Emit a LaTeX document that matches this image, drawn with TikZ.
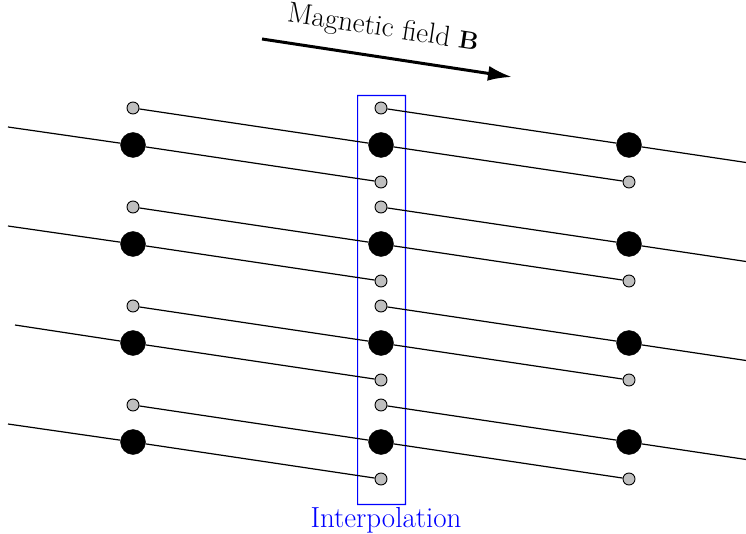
\documentclass[tikz,border=0pt]{standalone}
\usetikzlibrary{arrows.meta}
\definecolor{ibox}{RGB}{0,0,255}
\begin{document}
\begin{tikzpicture}[x=1pt,y=-1pt,
  bigdot/.style={circle,fill=black,draw=black,inner sep=0pt,minimum size=25pt},
  smalldot/.style={circle,fill=black!25,draw=black,line width=0.9pt,inner sep=0pt,minimum size=12pt},
  wire/.style={line width=1.2pt},
  txt/.style={font=\fontsize{29}{34}\selectfont}]
\useasboundingbox (0,0) rectangle (746,534);
\coordinate (boxA) at (357,95);
\coordinate (boxB) at (406,505);
\coordinate (boxC) at (358.1,96.1);
\coordinate (boxD) at (404.9,503.9);
\fill[ibox,even odd rule] (boxA) rectangle (boxB) (boxC) rectangle (boxD);
\foreach \i/\y/\sx in {1/145/8,2/244/8,3/343/15,4/442/8}{
  \coordinate (s\i) at (\sx,\y-18);
  \coordinate (e\i) at (746,\y+17.5);
  \node[bigdot] (bL\i) at (133,\y) {};
  \node[bigdot] (bM\i) at (381,\y) {};
  \node[bigdot] (bR\i) at (629,\y) {};
  \node[smalldot] (tL\i) at (133,\y-37) {};
  \node[smalldot] (tM\i) at (381,\y-37) {};
  \node[smalldot] (uM\i) at (381,\y+37) {};
  \node[smalldot] (uR\i) at (629,\y+37) {};
  \draw[wire] (s\i) -- (bL\i) -- (uM\i);
  \draw[wire] (tL\i) -- (bM\i) -- (uR\i);
  \draw[wire] (tM\i) -- (bR\i) -- (e\i);
}
\node[txt,text=ibox,anchor=north,inner sep=0pt] (interp) at (386,507) {Interpolation};
\coordinate (a1) at (262,39);
\coordinate (a2) at (512,77);
\draw[line width=3pt,-{Latex[length=24pt,width=15pt]}] (a1) -- (a2);
\node[txt,rotate=-8.6,inner sep=0pt] (lab) at (383,29) {Magnetic field $\mathbf{B}$};
\end{tikzpicture}
\end{document}
